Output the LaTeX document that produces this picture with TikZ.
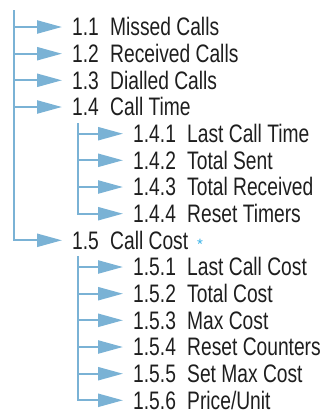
\documentclass[tikz,border=0pt]{standalone}
\usepackage{fontspec}
\setmainfont{Liberation Sans}
\usetikzlibrary{arrows.meta}
\definecolor{treeblue}{RGB}{122,178,213}
\definecolor{txt}{RGB}{30,30,30}
\definecolor{starblue}{RGB}{50,175,230}
\newcommand\cnd[1]{\scalebox{0.76}[1]{#1}}
\newcommand\numA[1]{\makebox[38pt][l]{\cnd{#1}}}
\newcommand\numB[1]{\makebox[54pt][l]{\cnd{#1}}}
\begin{document}
\begin{tikzpicture}[x=1pt,y=-1pt,
  trunk/.style={draw=treeblue,line width=2.3pt,line cap=rect},
  conn/.style={draw=treeblue,line width=2.3pt,-{Triangle[length=25pt,width=13pt]},shorten >=10pt},
  item/.style={anchor=west,inner sep=0pt,text height=17.4pt,text depth=0pt,
    font=\fontsize{25.3}{30}\selectfont,text=txt}]
\useasboundingbox (0,0) rectangle (322,410);
% rows
\node[item] (n11) at (72,27.0) {\numA{1.1}\cnd{Missed Calls}};
\node[item] (n12) at (72,53.7) {\numA{1.2}\cnd{Received Calls}};
\node[item] (n13) at (72,80.3) {\numA{1.3}\cnd{Dialled Calls}};
\node[item] (n14) at (72,107.0) {\numA{1.4}\cnd{Call Time}};
\node[item] (n141) at (133,133.7) {\numB{1.4.1}\cnd{Last Call Time}};
\node[item] (n142) at (133,160.3) {\numB{1.4.2}\cnd{Total Sent}};
\node[item] (n143) at (133,187.0) {\numB{1.4.3}\cnd{Total Received}};
\node[item] (n144) at (133,213.7) {\numB{1.4.4}\cnd{Reset Timers}};
\node[item] (n15) at (72,240.3) {\numA{1.5}\cnd{Call Cost}\hspace{9pt}\textcolor{starblue}{\fontsize{15}{15}\selectfont*}};
\node[item] (n151) at (133,267.0) {\numB{1.5.1}\cnd{Last Call Cost}};
\node[item] (n152) at (133,293.7) {\numB{1.5.2}\cnd{Total Cost}};
\node[item] (n153) at (133,320.3) {\numB{1.5.3}\cnd{Max Cost}};
\node[item] (n154) at (133,347.0) {\numB{1.5.4}\cnd{Reset Counters}};
\node[item] (n155) at (133,373.7) {\numB{1.5.5}\cnd{Set Max Cost}};
\node[item] (n156) at (133,400.3) {\numB{1.5.6}\cnd{Price/Unit}};
% junctions
\coordinate (top1) at (14,11);
\foreach \n/\y in {11/27.0,12/53.7,13/80.3,14/107.0,15/240.3}
  \coordinate (j\n) at (14,\y);
\coordinate (top14) at (78,124);
\foreach \n/\y in {141/133.7,142/160.3,143/187.0,144/213.7}
  \coordinate (j\n) at (78,\y);
\coordinate (top15) at (78,257);
\foreach \n/\y in {151/267.0,152/293.7,153/320.3,154/347.0,155/373.7,156/400.3}
  \coordinate (j\n) at (78,\y);
% trunks
\draw[trunk] (top1) -- (j15);
\draw[trunk] (top14) -- (j144);
\draw[trunk] (top15) -- (j156);
% branches
\foreach \n in {11,12,13,14,15,141,142,143,144,151,152,153,154,155,156}
  \draw[conn] (j\n) -- (n\n);
\end{tikzpicture}
\end{document}
